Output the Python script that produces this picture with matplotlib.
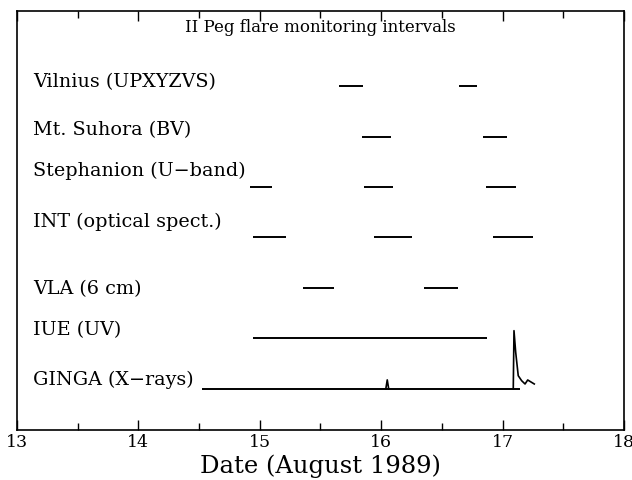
import matplotlib
matplotlib.use("Agg")
import matplotlib.pyplot as plt
from matplotlib.ticker import MultipleLocator

plt.rcParams['font.family'] = ['DejaVu Serif']

# Instruments / observatories, one row each (top to bottom)
labels = ["Vilnius (UPXYZVS)", "Mt. Suhora (BV)", "Stephanion (U\u2212band)",
          "INT (optical spect.)", "VLA (6 cm)", "IUE (UV)", "GINGA (X\u2212rays)"]
rows = [7, 6, 5, 4, 3, 2, 1]
label_y = [7.10, 6.15, 5.34, 4.33, 3.00, 2.19, 1.20]

# Monitoring intervals (start, end) in days of August 1989
vilnius = [(15.65, 15.85), (16.64, 16.79)]
suhora = [(15.84, 16.08), (16.84, 17.04)]
stephanion = [(14.92, 15.10), (15.86, 16.10), (16.86, 17.11)]
int_spec = [(14.94, 15.22), (15.94, 16.25), (16.92, 17.25)]
vla = [(15.36, 15.61), (16.35, 16.63)]
iue = [(14.94, 16.87)]
ginga = [(14.52, 17.14)]
intervals = [vilnius, suhora, stephanion, int_spec, vla, iue, ginga]

# GINGA count-rate excursions above the coverage line (row units)
ginga_small_t = [16.038, 16.050, 16.062]
ginga_small_f = [0.0, 0.18, 0.0]
ginga_flare_t = [17.088, 17.094, 17.108, 17.129, 17.157, 17.185, 17.207, 17.261]
ginga_flare_f = [0.0, 1.155, 0.727, 0.263, 0.164, 0.099, 0.178, 0.099]

fig = plt.figure(figsize=(6.32, 4.81), dpi=100)
ax = fig.add_axes([0.0269, 0.104, 0.9604, 0.871])

for row, segs in zip(rows, intervals):
    for t0, t1 in segs:
        ax.plot([t0, t1], [row, row], color='black', lw=1.4, solid_capstyle='butt')

ax.plot(ginga_small_t, [1 + f for f in ginga_small_f], color='black', lw=1.2)
ax.plot(ginga_flare_t, [1 + f for f in ginga_flare_f], color='black', lw=1.2)

for lab, y in zip(labels, label_y):
    ax.text(13.13, y, lab, fontsize=13.8, ha='left', va='center')

ax.text(15.5, 8.17, "II Peg flare monitoring intervals", fontsize=12,
        ha='center', va='center')

ax.set_xlim(13, 18)
ax.set_ylim(0.188, 8.485)
ax.set_yticks([])
ax.xaxis.set_major_locator(MultipleLocator(1))
ax.xaxis.set_minor_locator(MultipleLocator(0.5))
ax.tick_params(axis='x', which='both', direction='in', top=True, bottom=True,
               labelsize=12.5, pad=2, width=1.0)
ax.tick_params(axis='x', which='major', length=7)
ax.tick_params(axis='x', which='minor', length=5)
for s in ax.spines.values():
    s.set_linewidth(1.2)

ax.set_xlabel("Date (August 1989)", fontsize=17.5, labelpad=3)

fig.savefig("out.png", dpi=100)
